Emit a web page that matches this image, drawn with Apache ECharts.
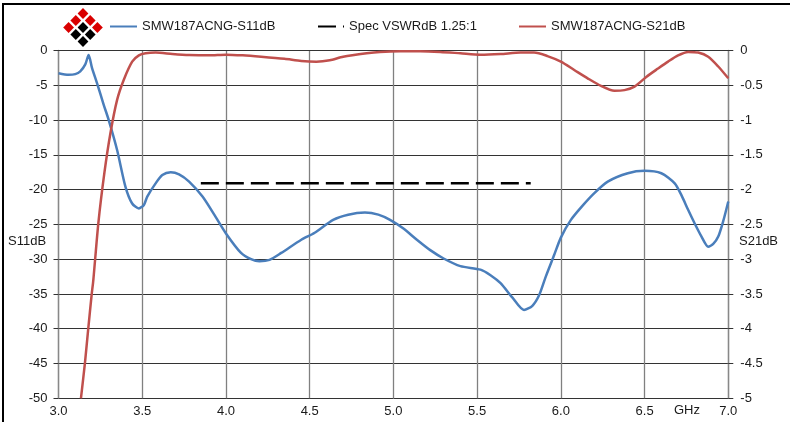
<!DOCTYPE html>
<html>
<head>
<meta charset="utf-8">
<script src="https://cdn.jsdelivr.net/npm/echarts@6/dist/echarts.min.js"></script>
<style>
html,body{margin:0;padding:0;background:#fff;}
#chart{width:790px;height:422px;}
</style>
</head>
<body>
<div id="chart"></div>
<script>
// ---- data ----
var s11Name = 'SMW187ACNG-S11dB';
var specName = 'Spec VSWRdB 1.25:1';
var s21Name = 'SMW187ACNG-S21dB';

var s11Freq = [3.0,3.06,3.10,3.13,3.16,3.18,3.20,3.23,3.27,3.30,3.35,3.40,3.44,3.48,3.51,3.53,3.58,3.62,3.67,3.72,3.78,3.86,3.93,4.00,4.09,4.15,4.20,4.26,4.33,4.45,4.53,4.64,4.73,4.83,4.91,4.98,5.06,5.14,5.22,5.30,5.40,5.52,5.58,5.64,5.71,5.78,5.83,5.87,5.91,5.96,6.00,6.06,6.13,6.20,6.28,6.40,6.50,6.60,6.68,6.72,6.76,6.80,6.84,6.88,6.91,6.94,6.97,7.00];
var s11Vals = [-3.28,-3.5,-3.4,-3.0,-2.0,-0.65,-2.5,-4.7,-7.8,-10,-14.3,-19.6,-22.0,-22.7,-22.2,-21.0,-19.1,-17.9,-17.5,-17.8,-18.85,-21.0,-23.6,-26.3,-29.1,-30.0,-30.3,-30.1,-29.1,-27.2,-26.2,-24.35,-23.6,-23.3,-23.6,-24.35,-25.6,-27.2,-28.7,-29.9,-31.0,-31.5,-32.3,-33.45,-35.5,-37.3,-36.7,-35.2,-32.5,-29.4,-26.9,-24.35,-22.3,-20.5,-18.85,-17.65,-17.3,-17.65,-19.1,-20.8,-22.9,-24.9,-26.75,-28.2,-27.8,-26.75,-24.5,-21.7];

var s21Freq = [3.134,3.158,3.178,3.198,3.208,3.238,3.274,3.31,3.35,3.39,3.44,3.48,3.52,3.58,3.68,3.78,3.9,4.0,4.1,4.21,4.35,4.45,4.54,4.62,4.7,4.84,4.92,5.04,5.16,5.28,5.4,5.52,5.64,5.76,5.84,5.92,6.0,6.08,6.16,6.24,6.32,6.38,6.44,6.51,6.58,6.64,6.7,6.76,6.82,6.88,6.94,7.0];
var s21Vals = [-5.0,-4.49,-3.99,-3.51,-3.30,-2.48,-1.76,-1.19,-0.71,-0.42,-0.16,-0.07,-0.04,-0.03,-0.05,-0.065,-0.07,-0.06,-0.07,-0.09,-0.12,-0.15,-0.16,-0.14,-0.09,-0.04,-0.02,-0.01,-0.01,-0.02,-0.04,-0.06,-0.05,-0.03,-0.03,-0.08,-0.16,-0.28,-0.40,-0.51,-0.58,-0.57,-0.52,-0.38,-0.26,-0.16,-0.07,-0.02,-0.03,-0.09,-0.23,-0.40];

var specFreq = [3.85, 5.82];
var specVals = [-19.08, -19.08];

var xTicks = {min: 3, max: 7, interval: 0.5};
var yLeftTicks = {min: -50, max: 0, interval: 5};
var yRightTicks = {min: -5, max: 0, interval: 0.5};

function zip(a, b) { return a.map(function (v, i) { return [v, b[i]]; }); }

// ---- logo (decorative) ----
var logo = [];
for (var i = 0; i < 3; i++) {
  for (var j = 0; j < 3; j++) {
    var cx = 83 + (j - i) * 7.2, cy = 13.5 + (i + j) * 7, h = 5.4;
    logo.push({
      type: 'polygon',
      shape: {points: [[cx, cy - h], [cx + h, cy], [cx, cy + h], [cx - h, cy]]},
      style: {fill: (i === 0 || j === 0) ? '#d90000' : '#000'},
      silent: true
    });
  }
}

var font = 'Liberation Sans, Arial, sans-serif';
var txtColor = '#1a1a1a';
var legendCommon = {top: 15, itemHeight: 14, itemStyle: {opacity: 0},
  textStyle: {fontSize: 13, color: txtColor, fontFamily: font}};

var chart = echarts.init(document.getElementById('chart'), null, {renderer: 'canvas'});
chart.setOption({
  animation: false,
  backgroundColor: '#fff',
  textStyle: {fontFamily: font},
  grid: {left: 58.5, right: 61.7, top: 50.5, bottom: 23.7, containLabel: false, outerBoundsMode: 'none'},
  legend: [
    Object.assign({data: [s11Name], left: 104, itemWidth: 27}, legendCommon),
    Object.assign({data: [specName], left: 312, itemWidth: 26}, legendCommon),
    Object.assign({data: [s21Name], left: 513, itemWidth: 27}, legendCommon)
  ],
  xAxis: {
    type: 'value', min: xTicks.min, max: xTicks.max, interval: xTicks.interval,
    axisLine: {show: true, lineStyle: {color: '#333', width: 1}},
    axisTick: {show: false},
    axisLabel: {margin: 7, fontSize: 13, color: txtColor, fontFamily: font,
      formatter: function (v) { return v.toFixed(1); }},
    splitLine: {show: true, lineStyle: {color: '#808080', width: 1.3}}
  },
  yAxis: [
    {
      type: 'value', min: yLeftTicks.min, max: yLeftTicks.max, interval: yLeftTicks.interval, position: 'left',
      axisLine: {show: true, lineStyle: {color: '#888', width: 1.3}},
      axisTick: {show: true, length: 5, inside: false, lineStyle: {color: '#333'}},
      axisLabel: {margin: 11, fontSize: 13, color: txtColor, fontFamily: font},
      splitLine: {show: true, lineStyle: {color: '#333', width: 1}}
    },
    {
      type: 'value', min: yRightTicks.min, max: yRightTicks.max, interval: yRightTicks.interval, position: 'right',
      axisLine: {show: true, lineStyle: {color: '#888', width: 1.3}},
      axisTick: {show: true, length: 5, inside: false, lineStyle: {color: '#333'}},
      axisLabel: {margin: 12, fontSize: 13, color: txtColor, fontFamily: font},
      splitLine: {show: false}
    }
  ],
  series: [
    {
      name: s11Name, type: 'line', yAxisIndex: 0, data: zip(s11Freq, s11Vals),
      showSymbol: false, symbol: 'none', smooth: 0.25,
      lineStyle: {color: '#4a7ebb', width: 2.5}, itemStyle: {color: '#4a7ebb'}, z: 3
    },
    {
      name: specName, type: 'line', yAxisIndex: 0, data: zip(specFreq, specVals),
      showSymbol: false, symbol: 'none',
      lineStyle: {color: '#000', width: 2.5, type: [18, 7]}, itemStyle: {color: '#000'}, z: 2
    },
    {
      name: s21Name, type: 'line', yAxisIndex: 1, data: zip(s21Freq, s21Vals),
      showSymbol: false, symbol: 'none', smooth: 0.25,
      lineStyle: {color: '#c0504d', width: 2.5}, itemStyle: {color: '#c0504d'}, z: 3
    }
  ],
  graphic: logo.concat([
    {type: 'rect', shape: {x: 3, y: 4, width: 820, height: 820}, style: {fill: 'none', stroke: '#000', lineWidth: 2}, silent: true},
    {type: 'text', left: 8, top: 235, style: {text: 'S11dB', font: '13px ' + font, fill: txtColor}, silent: true},
    {type: 'text', left: 739, top: 235, style: {text: 'S21dB', font: '13px ' + font, fill: txtColor}, silent: true},
    {type: 'text', left: 674, top: 404, style: {text: 'GHz', font: '13px ' + font, fill: txtColor}, silent: true}
  ])
});
</script>
</body>
</html>
